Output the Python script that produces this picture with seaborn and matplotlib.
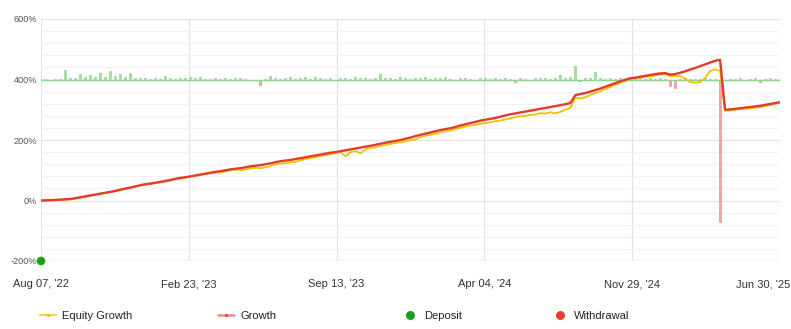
import numpy as np
import pandas as pd
import matplotlib
matplotlib.use("Agg")
import matplotlib.pyplot as plt
import matplotlib.transforms as mtransforms
from matplotlib.lines import Line2D
import seaborn as sns

# Account growth (%) per sample
growth = [
    0, 0.5, 1, 2, 3, 4, 5, 8, 11, 14,
    17, 20, 23, 26, 29, 32, 36, 40, 43, 47,
    51, 54, 56, 59, 62, 65, 68, 72, 75, 77,
    80, 83, 86, 89, 92, 95, 97, 100, 103, 105,
    107, 110, 113, 115, 117, 120, 123, 127, 130, 132,
    134, 137, 140, 143, 146, 149, 152, 155, 158, 160,
    163, 166, 169, 172, 175, 178, 181, 184, 188, 191,
    194, 197, 200, 204, 208, 213, 217, 221, 225, 229,
    233, 236, 239, 243, 248, 252, 256, 260, 264, 267,
    270, 273, 277, 281, 285, 288, 291, 294, 297, 300,
    303, 306, 309, 312, 315, 318, 322, 348, 352, 355,
    360, 365, 370, 376, 382, 388, 394, 399, 404, 406,
    409, 412, 415, 418, 420, 421, 416, 418, 422, 427,
    433, 438, 444, 450, 456, 462, 465, 300, 301, 303,
    305, 307, 309, 311, 313, 316, 319, 322, 325,
]

# Equity growth (%) per sample
equity = [
    0, 0, 1, 1, 2, 3, 4, 7, 10, 13,
    16, 19, 22, 25, 28, 31, 35, 38, 42, 46,
    50, 52, 55, 58, 60, 63, 67, 71, 73, 76,
    79, 82, 84, 88, 90, 92, 93, 96, 101, 102,
    100, 103, 106, 108, 107, 110, 114, 120, 122, 123,
    126, 128, 133, 137, 140, 143, 147, 150, 153, 157,
    160, 146, 160, 163, 156, 170, 174, 176, 181, 184,
    187, 190, 192, 196, 199, 202, 210, 214, 218, 220,
    226, 229, 232, 236, 240, 245, 248, 250, 254, 256,
    259, 262, 264, 268, 272, 275, 278, 279, 283, 284,
    289, 287, 292, 288, 293, 300, 305, 340, 337, 341,
    349, 355, 361, 368, 375, 382, 389, 395, 402, 403,
    405, 409, 410, 413, 416, 418, 410, 411, 412, 402,
    392, 389, 391, 405, 428, 434, 428, 297, 298, 300,
    302, 303, 305, 307, 309, 312, 315, 319, 323,
]

# Daily result bars (%), drawn around the 400% band
daily = [
    2, 3, 0, 2, 3, 33, 4, 6, 18, 8,
    15, 9, 20, 7, 27, 10, 18, 8, 23, 6,
    5, 4, 3, 6, 3, 10, 4, 3, 5, 6,
    8, 4, 8, 3, 2, 4, 3, 5, 3, 6,
    4, 3, 0, 0, -22, 3, 12, 4, 3, 5,
    8, 3, 4, 8, 3, 8, 4, 3, 5, -2,
    4, 6, 3, 8, 4, 5, 3, 6, 19, 4,
    5, 3, 8, 4, 3, 5, 4, 8, 3, 6,
    4, 7, 3, 0, 4, 5, 3, 0, 4, 6,
    3, 5, 3, 4, 3, -10, 4, 3, -5, 5,
    4, 6, 3, 5, 15, 4, 8, 43, -8, 5,
    4, 26, 4, 3, 5, 3, 4, 3, 5, 3,
    4, 3, 5, 3, 4, 3, -25, -30, 3, 4,
    3, 2, 3, 4, 3, 2, -475, 0, 3, 2,
    4, -3, 3, 5, -12, 3, 4, 2, 3,
]

date_labels = ["Aug 07, '22", "Feb 23, '23", "Sep 13, '23",
               "Apr 04, '24", "Nov 29, '24", "Jun 30, '25"]
deposit_value = [-200]

BAND = 400

sns.set_theme(style="white")
plt.rcParams["font.family"] = ["Liberation Sans", "DejaVu Sans"]

n = len(growth)
df = pd.DataFrame({"idx": np.arange(n), "growth": growth, "equity": equity})

fig = plt.figure(figsize=(7.91, 3.29), dpi=100)
ax = fig.add_axes([41 / 791, 1 - 261 / 329, 739 / 791, 242 / 329])

# grid
ax.set_ylim(-200, 600)
ax.set_xlim(0, n - 1)
ax.set_yticks([-200, 0, 200, 400, 600])
ax.set_yticks(np.arange(-200, 601, 40), minor=True)
ax.set_yticklabels([f"{v}%" for v in [-200, 0, 200, 400, 600]])
xt = np.linspace(0, n - 1, len(date_labels))
ax.set_xticks(xt)
ax.set_xticklabels(date_labels)
ax.grid(which="minor", axis="y", color="#f2f2f2", lw=0.8)
ax.grid(which="major", axis="y", color="#e3e3e3", lw=0.9)
ax.grid(which="major", axis="x", color="#e3e3e3", lw=0.9)
ax.set_axisbelow(True)
for s in ax.spines.values():
    s.set_visible(False)
ax.axhline(-200, color="#d5d5d5", lw=1.0, zorder=0.5)
ax.tick_params(axis="both", length=0, colors="#555555")
ax.tick_params(axis="y", pad=3, labelsize=6.6)
ax.tick_params(axis="x", pad=13, labelsize=8, labelcolor="#333333")

# keep the last date label inside the figure
last = ax.get_xticklabels()[-1]
last.set_horizontalalignment("right")
last.set_transform(last.get_transform() +
                   mtransforms.ScaledTranslation(0.10, 0, fig.dpi_scale_trans))

# daily bars around the 400% band
vals = np.array(daily, dtype=float)
colors = ["#a6dea6" if v >= 0 else "#f4a3a3" for v in vals]
ax.bar(np.arange(n), vals, bottom=BAND, width=0.6, color=colors,
       linewidth=0, zorder=1)
ax.axhline(BAND, color="#8fd48f", lw=1.0, zorder=1.1)

# growth lines
sns.lineplot(data=df, x="idx", y="equity", ax=ax, color="#f2c200", lw=1.3,
             zorder=3, legend=False)
sns.lineplot(data=df, x="idx", y="growth", ax=ax, color="#e33b2e", lw=1.7,
             zorder=4, legend=False)
ax.set_xlabel("")
ax.set_ylabel("")

# deposit marker
sns.scatterplot(x=[0], y=deposit_value, ax=ax, color="#17a317", s=38,
                edgecolor="none", zorder=6, clip_on=False, legend=False)

# legend
entries = [
    (Line2D([], [], color="#f5d35a", lw=1.6, marker="o", ms=2,
            markerfacecolor="#e8b800", markeredgecolor="none"), "Equity Growth", 40),
    (Line2D([], [], color="#f08a84", lw=1.8, marker="o", ms=2,
            markerfacecolor="#d63a2e", markeredgecolor="none"), "Growth", 218),
    (Line2D([], [], color="none", marker="o", ms=6.5,
            markerfacecolor="#17a317", markeredgecolor="none"), "Deposit", 402),
    (Line2D([], [], color="none", marker="o", ms=6.5,
            markerfacecolor="#e8412f", markeredgecolor="none"), "Withdrawal", 552),
]
for h, lab, px in entries:
    fig.legend([h], [lab], loc="center left",
               bbox_to_anchor=(px / 791, 1 - 316 / 329), frameon=False,
               fontsize=8, handlelength=1.4, handletextpad=0.6,
               borderpad=0, borderaxespad=0, labelcolor="#222222")

fig.savefig("out.png", dpi=100)
